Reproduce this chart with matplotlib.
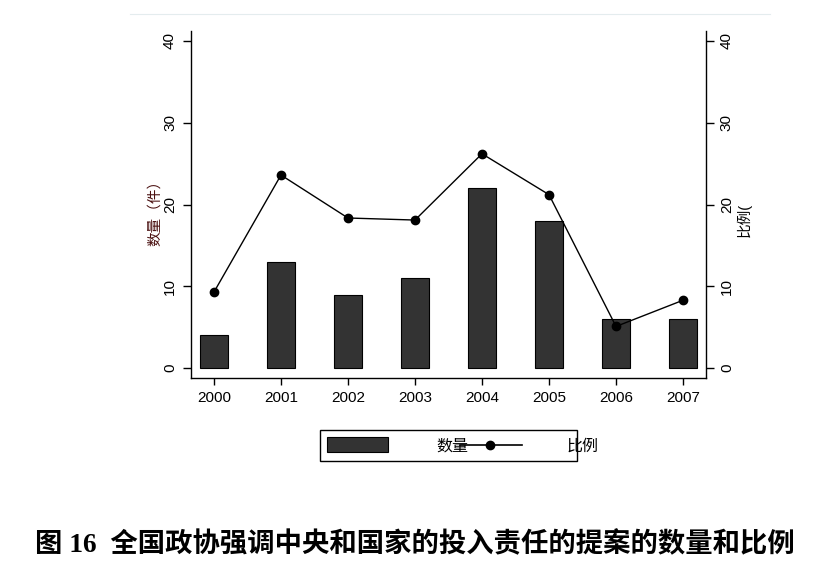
import matplotlib
matplotlib.use("Agg")
import matplotlib.pyplot as plt
from matplotlib.patches import Rectangle
from matplotlib.lines import Line2D

years = [2000, 2001, 2002, 2003, 2004, 2005, 2006, 2007]
counts = [4, 13, 9, 11, 22, 18, 6, 6]
ratios = [9.3, 23.6, 18.35, 18.1, 26.2, 21.2, 5.1, 8.3]
yticks = [0, 10, 20, 30, 40]

W, H = 830, 571
fig = plt.figure(figsize=(W / 100, H / 100), dpi=100)
cjk = ['Liberation Sans', 'Noto Sans CJK SC', 'DejaVu Sans']

def fx(px):
    return px / W

def fy(py):
    return 1 - py / H

ax = fig.add_axes([fx(191), fy(378), fx(706) - fx(191), fy(31) - fy(378)])
ax.bar(years, counts, width=0.42, color='#333333', edgecolor='black', linewidth=0.8, zorder=2)
ax2 = ax.twinx()
ax2.plot(years, ratios, color='black', linewidth=1.0, marker='o', markersize=6, zorder=3)

for a in (ax, ax2):
    a.set_xlim(1999.657, 2007.343)
    a.set_ylim(-1.2, 41.2)
    a.set_yticks(yticks)
    a.spines['top'].set_visible(False)
ax.spines['right'].set_visible(False)
ax2.spines['left'].set_visible(False)
ax2.spines['bottom'].set_visible(False)
for a in (ax, ax2):
    for s in a.spines.values():
        s.set_linewidth(1.0)

ax.set_xticks(years)
ax.set_xticklabels([str(y) for y in years], fontsize=11, family='Liberation Sans')
ax.tick_params(axis='x', length=5, width=1, pad=4)
ax.tick_params(axis='y', length=6, width=1, pad=4)
ax2.tick_params(axis='y', length=6, width=1, pad=4)
ax.set_yticklabels([str(v) for v in yticks], fontsize=11, family='Liberation Sans',
                   rotation=90, va='center')
ax2.set_yticklabels([str(v) for v in yticks], fontsize=11, family='Liberation Sans',
                    rotation=90, va='center')

fig.text(fx(155), fy(209), '数量（件）', rotation=90, ha='center', va='center',
         fontsize=10.5, family=cjk, color='#4a1010')
fig.text(fx(744), fy(220), '比例(', rotation=90, ha='center', va='center',
         fontsize=10.5, family=cjk, color='black')

# top thin rule
fig.add_artist(Line2D([fx(130), fx(770)], [fy(14), fy(14)], color='#e4ecee', linewidth=0.8))

# legend box
fig.add_artist(Rectangle((fx(320), fy(461)), fx(577) - fx(320), fy(430) - fy(461),
                         transform=fig.transFigure, fill=False, edgecolor='black', linewidth=1.0))
fig.add_artist(Rectangle((fx(327), fy(452)), fx(388) - fx(327), fy(437) - fy(452),
                         transform=fig.transFigure, facecolor='#333333', edgecolor='black', linewidth=0.8))
fig.text(fx(436), fy(446), '数量', ha='left', va='center', fontsize=11.5, family=cjk)
fig.add_artist(Line2D([fx(460), fx(522)], [fy(445), fy(445)], color='black', linewidth=1.2))
fig.add_artist(Line2D([fx(490)], [fy(445)], color='black', marker='o', markersize=6, linestyle='none'))
fig.text(fx(567), fy(446), '比例', ha='left', va='center', fontsize=11.5, family=cjk)

# caption
fig.text(fx(415), fy(545), '图 16  全国政协强调中央和国家的投入责任的提案的数量和比例',
         ha='center', va='center', fontsize=19.7, fontweight='bold',
         family=['Liberation Serif', 'Noto Sans CJK SC'])

fig.savefig('out.png', dpi=100)
